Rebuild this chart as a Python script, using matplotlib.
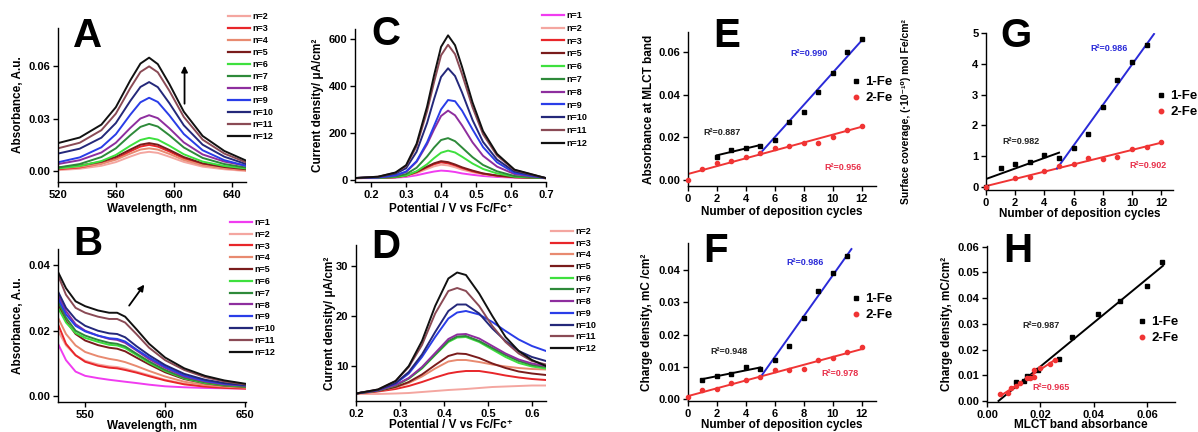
import numpy as np
import matplotlib
matplotlib.use('Agg')
import matplotlib.pyplot as plt
from matplotlib.lines import Line2D
from matplotlib.ticker import MultipleLocator, FormatStrFormatter

plt.rcParams['font.family'] = ['Liberation Sans', 'DejaVu Sans']
plt.rcParams['font.weight'] = 'bold'
plt.rcParams['axes.labelweight'] = 'bold'
plt.rcParams['axes.linewidth'] = 1.0
plt.rcParams['xtick.labelsize'] = 8
plt.rcParams['ytick.labelsize'] = 8
plt.rcParams['axes.labelsize'] = 8.5

# colour of each deposition cycle n
n_colors = {1: '#f03cf0', 2: '#f4a6a0', 3: '#e8262a', 4: '#e88a70', 5: '#7a1c1c',
            6: '#3ee03e', 7: '#2e8a3a', 8: '#8e2e9e', 9: '#2a3de8', 10: '#24287a',
            11: '#8a4a55', 12: '#111111'}
RED = '#f03434'
BLUE = '#2a2ad8'

# A: UV-vis spectra, 1-Fe films
a_wl = [520, 535, 550, 560, 570, 577, 583, 589, 597, 607, 620, 635, 650]
a_abs = {
    2: [0.0005, 0.0013, 0.0030, 0.0051, 0.0083, 0.0103, 0.0110, 0.0104, 0.0082, 0.0052, 0.0025, 0.0010, 0.0000],
    3: [0.0010, 0.0020, 0.0043, 0.0070, 0.0113, 0.0140, 0.0150, 0.0140, 0.0112, 0.0072, 0.0037, 0.0017, 0.0005],
    4: [0.0015, 0.0024, 0.0042, 0.0065, 0.0100, 0.0123, 0.0130, 0.0123, 0.0098, 0.0063, 0.0033, 0.0016, 0.0005],
    5: [0.0020, 0.0031, 0.0053, 0.0081, 0.0123, 0.0151, 0.0160, 0.0151, 0.0121, 0.0080, 0.0044, 0.0023, 0.0010],
    6: [0.0015, 0.0029, 0.0057, 0.0092, 0.0145, 0.0178, 0.0190, 0.0180, 0.0145, 0.0096, 0.0054, 0.0029, 0.0015],
    7: [0.0020, 0.0040, 0.0080, 0.0130, 0.0205, 0.0253, 0.0270, 0.0255, 0.0205, 0.0135, 0.0075, 0.0040, 0.0020],
    8: [0.0040, 0.0062, 0.0106, 0.0162, 0.0247, 0.0301, 0.0320, 0.0303, 0.0245, 0.0164, 0.0095, 0.0054, 0.0030],
    9: [0.0050, 0.0078, 0.0136, 0.0211, 0.0323, 0.0394, 0.0420, 0.0396, 0.0319, 0.0212, 0.0119, 0.0062, 0.0030],
    10: [0.0100, 0.0128, 0.0191, 0.0275, 0.0402, 0.0482, 0.0510, 0.0481, 0.0389, 0.0262, 0.0151, 0.0082, 0.0040],
    11: [0.0130, 0.0162, 0.0234, 0.0329, 0.0476, 0.0568, 0.0600, 0.0566, 0.0460, 0.0310, 0.0180, 0.0100, 0.0050],
    12: [0.0160, 0.0192, 0.0266, 0.0366, 0.0520, 0.0616, 0.0650, 0.0613, 0.0499, 0.0340, 0.0201, 0.0115, 0.0060],
}

# B: UV-vis spectra, 2-Fe films
b_wl = [533, 538, 544, 550, 558, 565, 570, 575, 582, 590, 600, 612, 625, 637, 650]
b_abs = {
    1: [0.016, 0.011, 0.0075, 0.0062, 0.0055, 0.0050, 0.0047, 0.0044, 0.0040, 0.0035, 0.0030, 0.0027, 0.0025, 0.0024, 0.0023],
    2: [0.020, 0.0155, 0.0125, 0.0108, 0.0097, 0.0091, 0.0089, 0.0084, 0.0075, 0.0064, 0.0050, 0.0038, 0.0030, 0.0026, 0.0024],
    3: [0.022, 0.016, 0.0125, 0.0105, 0.0093, 0.0087, 0.0085, 0.0080, 0.0072, 0.0061, 0.0048, 0.0036, 0.0029, 0.0025, 0.0023],
    4: [0.024, 0.019, 0.0155, 0.0135, 0.0122, 0.0114, 0.0110, 0.0104, 0.0092, 0.0077, 0.0060, 0.0044, 0.0034, 0.0029, 0.0026],
    5: [0.028, 0.023, 0.019, 0.0170, 0.0156, 0.0148, 0.0145, 0.0137, 0.0118, 0.0097, 0.0073, 0.0052, 0.0039, 0.0032, 0.0028],
    6: [0.027, 0.0225, 0.0193, 0.0178, 0.0166, 0.0157, 0.0155, 0.0147, 0.0126, 0.0102, 0.0077, 0.0054, 0.0040, 0.0033, 0.0029],
    7: [0.029, 0.024, 0.020, 0.0185, 0.0172, 0.0163, 0.0160, 0.0152, 0.0130, 0.0106, 0.0080, 0.0056, 0.0042, 0.0034, 0.0030],
    8: [0.031, 0.026, 0.022, 0.0200, 0.0185, 0.0175, 0.0172, 0.0163, 0.0140, 0.0113, 0.0086, 0.0060, 0.0045, 0.0036, 0.0032],
    9: [0.030, 0.025, 0.0215, 0.0198, 0.0185, 0.0177, 0.0175, 0.0167, 0.0143, 0.0118, 0.0090, 0.0063, 0.0047, 0.0038, 0.0033],
    10: [0.032, 0.027, 0.0235, 0.0215, 0.0200, 0.0192, 0.0190, 0.0180, 0.0153, 0.0125, 0.0095, 0.0068, 0.0050, 0.0040, 0.0034],
    11: [0.037, 0.031, 0.027, 0.0255, 0.0243, 0.0236, 0.0236, 0.0225, 0.0190, 0.0148, 0.0110, 0.0080, 0.0058, 0.0045, 0.0036],
    12: [0.038, 0.033, 0.029, 0.0275, 0.0262, 0.0255, 0.0255, 0.0243, 0.0205, 0.0160, 0.0118, 0.0085, 0.0062, 0.0048, 0.0038],
}

# C: anodic CV waves, 1-Fe films
c_pot = [0.15, 0.22, 0.27, 0.30, 0.33, 0.36, 0.38, 0.40, 0.42, 0.44, 0.46, 0.49, 0.52, 0.56, 0.61, 0.70]
c_cur = {
    1: [8, 8, 10, 13, 20, 30, 36, 40, 38, 34, 28, 22, 17, 13, 10, 8],
    2: [8, 9, 11, 17, 29, 47, 58, 65, 62, 54, 44, 33, 24, 17, 11, 8],
    3: [8, 9, 12, 18, 33, 54, 67, 75, 71, 62, 51, 37, 27, 18, 12, 8],
    5: [8, 9, 12, 19, 35, 57, 71, 80, 76, 66, 54, 40, 28, 19, 12, 8],
    6: [8, 9, 13, 19, 37, 67, 93, 116, 125, 117, 99, 70, 47, 28, 14, 8],
    7: [8, 10, 15, 25, 52, 100, 138, 170, 178, 165, 138, 97, 64, 37, 17, 8],
    8: [8, 11, 19, 34, 77, 152, 215, 272, 295, 275, 232, 160, 103, 57, 25, 8],
    9: [8, 11, 20, 36, 80, 160, 230, 300, 340, 335, 295, 215, 140, 75, 30, 8],
    10: [8, 13, 27, 50, 120, 242, 344, 438, 475, 442, 372, 255, 162, 87, 36, 8],
    11: [8, 14, 31, 59, 144, 292, 416, 530, 575, 535, 450, 309, 195, 104, 42, 8],
    12: [8, 14, 32, 63, 154, 312, 445, 566, 615, 573, 481, 330, 208, 111, 44, 8],
}

# D: anodic CV waves, 2-Fe films
d_pot = [0.20, 0.25, 0.29, 0.32, 0.35, 0.38, 0.41, 0.43, 0.45, 0.48, 0.51, 0.54, 0.57, 0.60, 0.632]
d_cur = {
    2: [4.4, 4.4, 4.5, 4.6, 4.8, 5.0, 5.2, 5.3, 5.4, 5.6, 5.8, 5.9, 6.0, 6.1, 6.1],
    3: [4.5, 4.9, 5.4, 6.0, 6.8, 7.7, 8.5, 8.8, 9.0, 9.0, 8.6, 8.1, 7.7, 7.4, 7.2],
    4: [4.5, 5.0, 5.7, 6.6, 7.9, 9.5, 10.9, 11.2, 11.2, 10.8, 10.3, 9.9, 9.6, 9.4, 9.3],
    5: [4.5, 5.0, 5.8, 6.8, 8.3, 10.2, 12.0, 12.5, 12.4, 11.6, 10.5, 9.6, 8.9, 8.5, 8.2],
    6: [4.5, 5.1, 6.1, 7.5, 9.5, 12.2, 14.8, 15.7, 15.8, 14.8, 13.3, 11.8, 10.6, 9.9, 9.5],
    7: [4.5, 5.1, 6.1, 7.5, 9.6, 12.3, 15.0, 15.9, 16.0, 15.0, 13.6, 12.2, 11.0, 10.2, 9.8],
    8: [4.5, 5.1, 6.2, 7.6, 9.8, 12.6, 15.4, 16.3, 16.4, 15.5, 14.0, 12.5, 11.3, 10.5, 10.0],
    9: [4.5, 5.2, 6.5, 8.5, 11.8, 15.8, 19.5, 20.7, 21.0, 20.3, 18.8, 17.0, 15.3, 14.0, 13.0],
    10: [4.5, 5.2, 6.6, 8.8, 12.3, 16.8, 21.0, 22.3, 22.3, 20.5, 17.5, 15.0, 13.0, 11.8, 11.0],
    11: [4.5, 5.3, 7.0, 9.8, 14.2, 20.5, 25.0, 25.6, 25.0, 22.0, 18.0, 14.8, 12.5, 11.0, 10.3],
    12: [4.5, 5.3, 7.0, 10.0, 15.0, 22.0, 27.5, 28.7, 28.2, 24.5, 20.0, 15.8, 13.0, 11.2, 10.0],
}

# E: MLCT absorbance vs deposition cycles
e_n1 = [2, 3, 4, 5, 6, 7, 8, 9, 10, 11, 12]
e_fe1 = [0.011, 0.014, 0.015, 0.016, 0.019, 0.027, 0.032, 0.0415, 0.050, 0.060, 0.066]
e_n2 = [0, 1, 2, 3, 4, 5, 6, 7, 8, 9, 10, 11, 12]
e_fe2 = [0.0, 0.005, 0.008, 0.009, 0.011, 0.0125, 0.015, 0.016, 0.0175, 0.0175, 0.020, 0.0235, 0.0255]

# F: charge density vs deposition cycles
f_n1 = [1, 2, 3, 4, 5, 6, 7, 8, 9, 10, 11]
f_fe1 = [0.006, 0.0072, 0.0078, 0.0098, 0.0092, 0.012, 0.0165, 0.025, 0.0335, 0.039, 0.0445]
f_n2 = [0, 1, 2, 3, 4, 5, 6, 7, 8, 9, 10, 11, 12]
f_fe2 = [0.0005, 0.0027, 0.003, 0.005, 0.006, 0.0068, 0.009, 0.009, 0.0093, 0.012, 0.0127, 0.0145, 0.016]

# G: surface coverage vs deposition cycles
g_n1 = [0, 1, 2, 3, 4, 5, 6, 7, 8, 9, 10, 11]
g_fe1 = [0.0, 0.6, 0.75, 0.8, 1.03, 0.93, 1.25, 1.72, 2.6, 3.48, 4.05, 4.62]
g_n2 = [0, 2, 3, 4, 5, 6, 7, 8, 9, 10, 11, 12]
g_fe2 = [0.0, 0.28, 0.32, 0.52, 0.68, 0.75, 0.93, 0.92, 0.97, 1.23, 1.3, 1.47]

# H: charge density vs MLCT absorbance
h_x1 = [0.011, 0.014, 0.015, 0.016, 0.019, 0.027, 0.032, 0.0415, 0.050, 0.060, 0.0655]
h_y1 = [0.0072, 0.0078, 0.0098, 0.0092, 0.012, 0.0165, 0.025, 0.0337, 0.039, 0.0447, 0.054]
h_x2 = [0.005, 0.008, 0.009, 0.011, 0.0125, 0.015, 0.016, 0.0175, 0.0175, 0.020, 0.0235, 0.0255]
h_y2 = [0.0027, 0.003, 0.005, 0.006, 0.0068, 0.009, 0.009, 0.0093, 0.012, 0.0127, 0.0145, 0.016]

r2_e = ['0.887', '0.990', '0.956']
r2_f = ['0.948', '0.986', '0.978']
r2_g = ['0.982', '0.986', '0.902']
r2_h = ['0.987', '0.965']

W, H = 1198, 432
fig = plt.figure(figsize=(W / 100, H / 100), dpi=100)


def panel(l, t, r, b):
    ax = fig.add_axes([l / W, 1 - b / H, (r - l) / W, (b - t) / H])
    ax.spines['top'].set_visible(False)
    ax.spines['right'].set_visible(False)
    ax.tick_params(direction='out', length=3.5, width=1.0, pad=2)
    return ax


def labels(ax, xl, yl, xy, yx):
    ax.set_xlabel(xl)
    ax.set_ylabel(yl)
    ax.xaxis.set_label_coords(0.5, xy)
    ax.yaxis.set_label_coords(yx, 0.5)


def letter(x, y, s):
    fig.text(x / W, 1 - y / H, s, fontsize=29, fontweight='bold', va='baseline', ha='left')


def n_legend(ax, ns, x, y, sp):
    hs = [Line2D([], [], color=n_colors[n], lw=1.6) for n in ns]
    ax.legend(hs, ['n=%d' % n for n in ns], loc='upper left',
              bbox_to_anchor=(x / W, 1 - y / H), bbox_transform=fig.transFigure,
              frameon=False, fontsize=6.5, handlelength=2.4, handletextpad=0.35,
              labelspacing=sp, borderpad=0, borderaxespad=0)


def fe_legend(ax, x, y):
    hs = [Line2D([], [], ls='', marker='s', ms=3.2, color='k'),
          Line2D([], [], ls='', marker='o', ms=3.2, color=RED)]
    ax.legend(hs, ['1-Fe', '2-Fe'], loc='upper left',
              bbox_to_anchor=(x / W, 1 - y / H), bbox_transform=fig.transFigure,
              frameon=False, fontsize=9.5, handlelength=0.5, handletextpad=0.45,
              labelspacing=0.3, borderpad=0, borderaxespad=0)


def curves(ax, xs, ys):
    for n, y in ys.items():
        ax.plot(xs, y, color=n_colors[n], lw=1.4)


def seg(ax, m, b, x0, x1, color):
    xs = np.array([x0, x1])
    ax.plot(xs, m * xs + b, color=color, lw=1.4, zorder=2)


def growth(ax, n1, v1, n2, v2, blue_end, r2, pos):
    n1, v1, n2, v2 = map(np.array, (n1, v1, n2, v2))
    lo = n1 <= 5
    hi = n1 >= 5
    mk, bk = np.polyfit(n1[lo], v1[lo], 1)
    mb, bb = np.polyfit(n1[hi], v1[hi], 1)
    mr, br = np.polyfit(n2, v2, 1)
    xc = (br - bb) / (mb - mr)
    seg(ax, mr, br, 0, 12, RED)
    seg(ax, mk, bk, n1.min(), 5, 'k')
    seg(ax, mb, bb, xc, blue_end, BLUE)
    ax.plot(n1, v1, 's', ms=3, color='k', zorder=3, clip_on=False)
    ax.plot(n2, v2, 'o', ms=3, color=RED, zorder=3, clip_on=False)
    for txt, (x, y), c in zip(r2, pos, ['#222222', BLUE, '#e8304a']):
        ax.text(x, y, 'R²=' + txt, color=c, fontsize=6.5, va='center', ha='left')


# A
ax = panel(58, 28, 246, 182)
curves(ax, a_wl, a_abs)
ax.set_xlim(520, 650)
ax.set_ylim(-0.0063, 0.082)
ax.xaxis.set_major_locator(MultipleLocator(40))
ax.yaxis.set_major_locator(MultipleLocator(0.03))
ax.yaxis.set_major_formatter(FormatStrFormatter('%.2f'))
ax.annotate('', xy=(607.5, 0.062), xytext=(607.5, 0.037),
            arrowprops=dict(arrowstyle='-|>', color='k', lw=1.3, mutation_scale=9))
labels(ax, 'Wavelength, nm', 'Absorbance, A.u.', -0.136, -0.181)
n_legend(ax, list(range(2, 13)), 228, 12, 0.33)
letter(73, 47, 'A')

# B
ax = panel(58, 249, 246, 402)
curves(ax, b_wl, b_abs)
ax.set_xlim(533, 650.6)
ax.set_ylim(-0.0018, 0.045)
ax.xaxis.set_major_locator(MultipleLocator(50))
ax.yaxis.set_major_locator(MultipleLocator(0.02))
ax.yaxis.set_major_formatter(FormatStrFormatter('%.2f'))
ax.annotate('', xy=(588, 0.0348), xytext=(576.5, 0.027),
            arrowprops=dict(arrowstyle='-|>', color='k', lw=1.3, mutation_scale=9))
labels(ax, 'Wavelength, nm', 'Absorbance, A.u.', -0.118, -0.181)
n_legend(ax, list(range(1, 13)), 230, 218, 0.31)
letter(73, 255, 'B')

# C
ax = panel(355, 29, 546, 182)
curves(ax, c_pot, c_cur)
ax.set_xlim(0.154, 0.70)
ax.set_ylim(-8.5, 642)
ax.xaxis.set_major_locator(MultipleLocator(0.1))
ax.xaxis.set_major_formatter(FormatStrFormatter('%.1f'))
ax.yaxis.set_major_locator(MultipleLocator(200))
labels(ax, 'Potential / V vs Fc/Fc⁺', 'Current density/ μA/cm²', -0.137, -0.162)
n_legend(ax, [1, 2, 3, 5, 6, 7, 8, 9, 10, 11, 12], 542, 11, 0.42)
letter(371, 45, 'C')

# D
ax = panel(356, 245, 546, 401)
curves(ax, d_pot, d_cur)
ax.set_xlim(0.2, 0.632)
ax.set_ylim(3, 34.2)
ax.xaxis.set_major_locator(MultipleLocator(0.1))
ax.xaxis.set_major_formatter(FormatStrFormatter('%.1f'))
ax.yaxis.set_major_locator(MultipleLocator(10))
labels(ax, 'Potential / V vs Fc/Fc⁺', 'Current density/ μA/cm²', -0.115, -0.105)
n_legend(ax, list(range(2, 13)), 551, 227, 0.30)
letter(371, 258, 'D')

# E
ax = panel(688, 32, 876, 186)
growth(ax, e_n1, e_fe1, e_n2, e_fe2, 12, r2_e,
       [(1.04, 0.0225), (7.1, 0.0595), (9.44, 0.0061)])
ax.set_xlim(0, 13)
ax.set_ylim(-0.0028, 0.0694)
ax.xaxis.set_major_locator(MultipleLocator(2))
ax.yaxis.set_major_locator(MultipleLocator(0.02))
ax.yaxis.set_major_formatter(FormatStrFormatter('%.2f'))
labels(ax, 'Number of deposition cycles', 'Absorbance at MLCT band', -0.13, -0.176)
fe_legend(ax, 853, 76)
letter(713, 47, 'E')

# F
ax = panel(688, 243, 876, 401)
growth(ax, f_n1, f_fe1, f_n2, f_fe2, 11.3, r2_f,
       [(1.52, 0.0146), (6.83, 0.0422), (9.24, 0.0078)])
ax.set_xlim(0, 13)
ax.set_ylim(-0.0006, 0.0484)
ax.xaxis.set_major_locator(MultipleLocator(2))
ax.yaxis.set_major_locator(MultipleLocator(0.01))
ax.yaxis.set_major_formatter(FormatStrFormatter('%.2f'))
labels(ax, 'Number of deposition cycles', 'Charge density, mC /cm²', -0.114, -0.186)
fe_legend(ax, 853, 293)
letter(703, 262, 'F')

# G
ax = panel(986, 33, 1173, 190)
growth(ax, g_n1, g_fe1, g_n2, g_fe2, 11.5, r2_g,
       [(1.1, 1.46), (7.12, 4.51), (9.8, 0.68)])
ax.set_xlim(0, 12.8)
ax.set_ylim(-0.1, 5.0)
ax.xaxis.set_major_locator(MultipleLocator(2))
ax.yaxis.set_major_locator(MultipleLocator(1))
labels(ax, 'Number of deposition cycles', 'Surface coverage, (·10⁻¹⁰) mol Fe/cm²', -0.115, -0.401)
ax.yaxis.label.set_fontsize(7.5)
fe_legend(ax, 1158, 90)
letter(1000, 47, 'G')

# H
ax = panel(987, 246, 1175, 402)
hx1, hy1, hx2, hy2 = map(np.array, (h_x1, h_y1, h_x2, h_y2))
m1, b1 = np.polyfit(hx1, hy1, 1)
m2, b2 = np.polyfit(hx2, hy2, 1)
seg(ax, m1, b1, -b1 / m1, hx1.max() + 0.0005, 'k')
seg(ax, m2, b2, hx2.min(), hx2.max(), RED)
ax.plot(hx1, hy1, 's', ms=3, color='k', zorder=3)
ax.plot(hx2, hy2, 'o', ms=3, color=RED, zorder=3)
ax.text(0.0131, 0.0292, 'R²=' + r2_h[0], color='#222222', fontsize=6.5, va='center')
ax.text(0.0172, 0.0054, 'R²=' + r2_h[1], color='#e8304a', fontsize=6.5, va='center')
ax.set_xlim(0, 0.0705)
ax.set_ylim(-0.0004, 0.0603)
ax.xaxis.set_major_locator(MultipleLocator(0.02))
ax.xaxis.set_major_formatter(FormatStrFormatter('%.2f'))
ax.yaxis.set_major_locator(MultipleLocator(0.01))
ax.yaxis.set_major_formatter(FormatStrFormatter('%.2f'))
labels(ax, 'MLCT band absorbance', 'Charge density, mC/cm²', -0.109, -0.181)
fe_legend(ax, 1139, 316)
letter(1003, 262, 'H')

fig.savefig('out.png', dpi=100)
